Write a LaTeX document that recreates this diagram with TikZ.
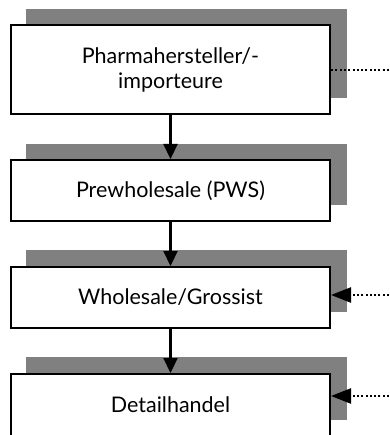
\documentclass[tikz,border=0pt]{standalone}
\usepackage{fontspec}
\setmainfont{Lato}
\usetikzlibrary{arrows.meta}
\definecolor{shadowgray}{HTML}{808080}
\begin{document}
\begin{tikzpicture}[x=1pt,y=-1pt,
  stage/.style={draw=black, line width=2pt, fill=white, minimum width=319pt,
    align=center, font=\fontsize{21.5}{25}\selectfont, inner sep=0pt},
  shade/.style={fill=shadowgray},
  flow/.style={line width=2.2pt, -{Triangle[length=15pt,width=14pt]}},
  feed/.style={line width=2.4pt, dash pattern=on 2pt off 2.3pt, line cap=butt},
  feedarrow/.style={feed, -{Triangle[length=20pt,width=15pt,sep=0pt]}}]
  \useasboundingbox (0,0) rectangle (389,435);
  % offset shadows behind the stages
  \fill[shade] (26,9) rectangle (347,98);
  \fill[shade] (26,144) rectangle (347,205);
  \fill[shade] (26,250) rectangle (347,312);
  \fill[shade] (26,357) rectangle (347,420);
  % stages
  \node[stage, minimum height=89pt] (p) at (170.5,69.5) {Pharmahersteller/-\\importeure};
  \node[stage, minimum height=61pt] (pws) at (170.5,190.5) {Prewholesale (PWS)};
  \node[stage, minimum height=61pt] (w) at (170.5,297.5) {Wholesale/Grossist};
  \node[stage, minimum height=62pt] (d) at (170.5,405) {Detailhandel};
  % supply chain
  \draw[flow] (p) -- (pws);
  \draw[flow] (pws) -- (w);
  \draw[flow] (w) -- (d);
  % side links
  \coordinate (e1) at (389,70);
  \coordinate (e3) at (389,295);
  \coordinate (e4) at (389,396);
  \draw[feed] (p.east |- e1) -- (e1);
  \draw[feedarrow] (e3) -- (w.east |- e3);
  \draw[feedarrow] (e4) -- (d.east |- e4);
\end{tikzpicture}
\end{document}
